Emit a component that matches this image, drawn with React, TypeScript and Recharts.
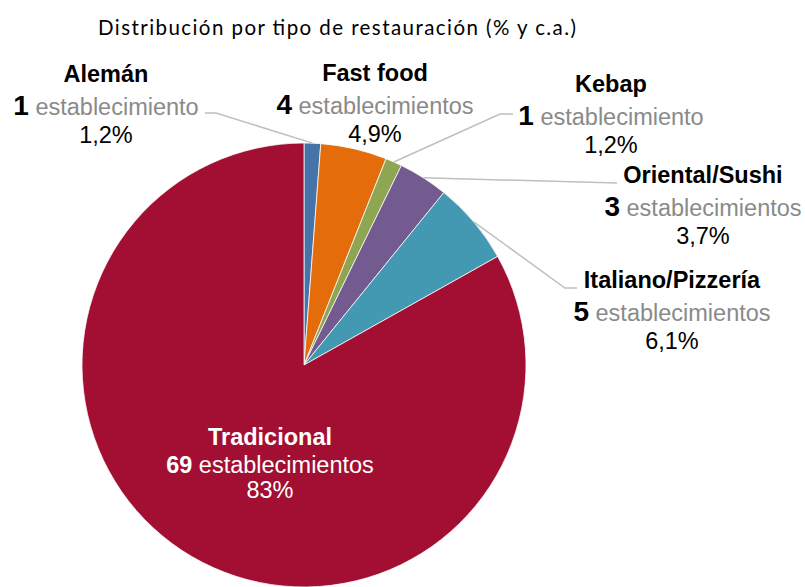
import React from 'react';
import { PieChart, Pie, Cell } from 'recharts';

// ---- data ----
const categories = ['Alemán', 'Fast food', 'Kebap', 'Oriental/Sushi', 'Italiano/Pizzería', 'Tradicional'];
const establishments = [1, 4, 1, 3, 5, 69];
const percentLabels = ['1,2%', '4,9%', '1,2%', '3,7%', '6,1%', '83%'];
const titleText = 'Distribución por tipo de restauración (% y c.a.)';

// ---- styles ----
const colors = ['#4674A8', '#E46C0A', '#8EA652', '#735A8F', '#4399B1', '#A20F32'];

// label layout: text centre x, name baseline y, optional leader-line points (elbow, end)
const labelLayout: { x: number; y: number; pts?: number[][]; inside?: boolean }[] = [
  { x: 106, y: 82, pts: [[216, 113], [205, 113]] },
  { x: 375, y: 81 },
  { x: 611, y: 92, pts: [[500, 114], [513, 114]] },
  { x: 703, y: 183, pts: [[617, 183]] },
  { x: 672, y: 288, pts: [[565, 288], [577, 288]] },
  { x: 270, y: 445, inside: true },
];

const data = categories.map((name, i) => ({ name, value: establishments[i], pct: percentLabels[i] }));

const RAD = Math.PI / 180;
const FONT = 'Liberation Sans, Arial, sans-serif';

const renderLabel = (props: any) => {
  const { cx, cy, midAngle, outerRadius, index } = props;
  const lay = labelLayout[index];
  const d = data[index];
  const sx = cx + outerRadius * Math.cos(-midAngle * RAD);
  const sy = cy + outerRadius * Math.sin(-midAngle * RAD);
  const unit = d.value === 1 ? 'establecimiento' : 'establecimientos';
  const inside = !!lay.inside;
  const main = inside ? '#FFFFFF' : '#000000';
  const grey = inside ? '#FFFFFF' : '#8A8A8A';
  const gap2 = inside ? 28 : 33;
  const gap3 = inside ? 25 : 28;
  return (
    <g key={`lbl-${index}`}>
      {lay.pts && (
        <polyline
          points={[[sx, sy], ...lay.pts].map((p) => p.join(',')).join(' ')}
          fill="none"
          stroke="#BFBFBF"
          strokeWidth={1.5}
        />
      )}
      <text x={lay.x} y={lay.y} textAnchor="middle" fontFamily={FONT} fontSize={23.5} fontWeight="bold" fill={main}>
        {d.name}
      </text>
      <text x={lay.x} y={lay.y + gap2} textAnchor="middle" fontFamily={FONT} fontSize={23.5} style={{ whiteSpace: 'pre' }}>
        <tspan fontWeight="bold" fontSize={inside ? 23.5 : 28} fill={main}>{String(d.value)}</tspan>
        <tspan fill={grey}>{' ' + unit}</tspan>
      </text>
      <text x={lay.x} y={lay.y + gap2 + gap3} textAnchor="middle" fontFamily={FONT} fontSize={23.5} fill={main}>
        {d.pct}
      </text>
    </g>
  );
};

export default function App() {
  return (
    <div style={{ position: 'absolute', left: 0, top: 0, width: 805, height: 587, background: '#fff', overflow: 'hidden' }}>
      <svg width={805} height={60} style={{ position: 'absolute', left: 0, top: 0 }}>
        <text
          x={98}
          y={35}
          fontFamily="Lato, 'Open Sans', sans-serif"
          fontSize={20.5}
          fill="#000"
          textLength={478}
          lengthAdjust="spacing"
        >
          {titleText}
        </text>
      </svg>
      <div style={{ position: 'absolute', left: 0, top: 0 }}>
        <PieChart width={805} height={587} margin={{ top: 0, right: 0, bottom: 0, left: 0 }}>
          <Pie
            data={data}
            dataKey="value"
            nameKey="name"
            cx={304}
            cy={365}
            outerRadius={222}
            innerRadius={0}
            startAngle={90}
            endAngle={-270}
            stroke="#FFFFFF"
            strokeWidth={0.75}
            label={renderLabel}
            labelLine={false}
            isAnimationActive={false}
          >
            {data.map((_, i) => (
              <Cell key={`c-${i}`} fill={colors[i]} />
            ))}
          </Pie>
        </PieChart>
      </div>
    </div>
  );
}
